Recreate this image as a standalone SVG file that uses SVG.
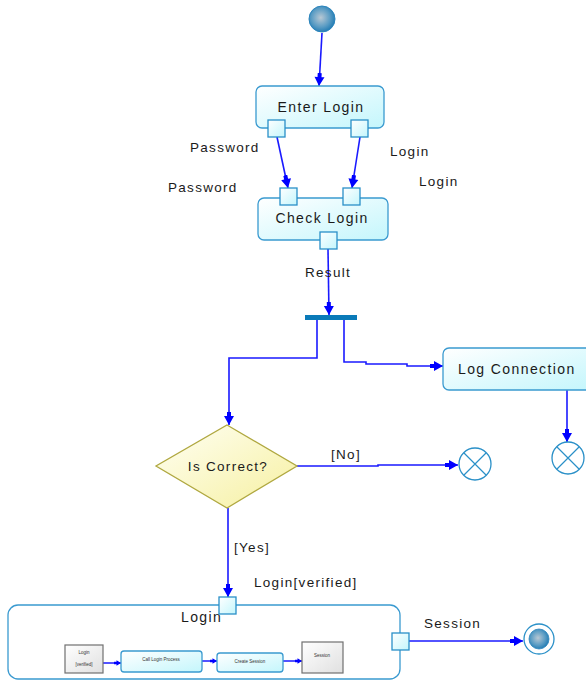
<svg xmlns="http://www.w3.org/2000/svg" width="586" height="681" viewBox="0 0 586 681">
<defs>
<linearGradient id="gNode" x1="0" y1="0" x2="1" y2="1">
<stop offset="0" stop-color="#ffffff"/>
<stop offset="1" stop-color="#c4f6fc"/>
</linearGradient>
<linearGradient id="gDia" x1="0" y1="0" x2="1" y2="1">
<stop offset="0" stop-color="#fffff4"/>
<stop offset="1" stop-color="#f6f0a0"/>
</linearGradient>
<linearGradient id="gObj" x1="0" y1="0" x2="1" y2="1">
<stop offset="0" stop-color="#ffffff"/>
<stop offset="1" stop-color="#e0e0e0"/>
</linearGradient>
<radialGradient id="gStart" cx="0.45" cy="0.45" r="0.6">
<stop offset="0" stop-color="#b8c8d4"/>
<stop offset="0.6" stop-color="#5a9cc4"/>
<stop offset="1" stop-color="#1a76b0"/>
</radialGradient>
<marker id="arr" markerUnits="userSpaceOnUse" markerWidth="14" markerHeight="11" refX="13" refY="5.5" orient="auto">
<path d="M0,3.5 L4,3.5 L4,0.5 L13,5.5 L4,10.5 L4,7.5 L0,7.5 z" fill="#0000ff"/>
</marker>
<marker id="arrS" markerUnits="userSpaceOnUse" markerWidth="8" markerHeight="6" refX="7" refY="3" orient="auto">
<path d="M0,1.8 L2.5,1.8 L2.5,0.3 L7,3 L2.5,5.7 L2.5,4.2 L0,4.2 z" fill="#0000ff"/>
</marker>
</defs>
<style>
.node{fill:url(#gNode);stroke:#3a9ad0;stroke-width:1.3}
.port{fill:url(#gNode);stroke:#2a90c8;stroke-width:1.3}
.obj{fill:url(#gObj);stroke:#707070;stroke-width:1.2}
.c{fill:none;stroke:#1a1aff;stroke-width:1.6;marker-end:url(#arr)}
.cs{fill:none;stroke:#1a1aff;stroke-width:1.5;marker-end:url(#arrS)}
.t{font-family:"Liberation Sans",Arial,sans-serif;font-size:14px;letter-spacing:1.4px;fill:#1a1a1a}
.l{font-family:"Liberation Sans",Arial,sans-serif;font-size:13.5px;letter-spacing:1.3px;fill:#1a1a1a}
.tiny{font-family:"Liberation Sans",Arial,sans-serif;font-size:4.5px;fill:#333}
.ff{fill:#ffffff;stroke:#2a90c8;stroke-width:1.3}
</style>

<g id="loginActivity">
<rect x="8" y="605" width="392" height="74" rx="10" fill="#ffffff" stroke="#3a9ad0" stroke-width="1.3"/>
<text class="t" x="181" y="622">Login</text>
</g>

<g id="connectors">
<polyline class="c" points="322,33 319,86"/>
<polyline class="c" points="277,137 288,188"/>
<polyline class="c" points="360,137 352,188"/>
<polyline class="c" points="328,249 329,315"/>
<polyline class="c" points="317,319 317,358 229,358 229,425"/>
<polyline class="c" points="344,319 344,362 366,362 366,364 407,364 407,366 443,366"/>
<polyline class="c" points="567,390 567,442"/>
<polyline class="c" points="297,466 378,466 378,465 458,465"/>
<polyline class="c" points="228,508 228,597"/>
<polyline class="c" points="409,641 523,641"/>
<polyline class="cs" points="103,663 121,663"/>
<polyline class="cs" points="202,661 217,661"/>
<polyline class="cs" points="283,661 302,661"/>
</g>

<g id="start">
<circle cx="322" cy="19" r="13" fill="url(#gStart)" stroke="#2a84bc" stroke-width="1"/>
</g>

<g id="enterLogin">
<rect class="node" x="256" y="86" width="128" height="42" rx="6"/>
<text class="t" x="321" y="112" text-anchor="middle">Enter Login</text>
<rect class="port" x="268" y="120" width="17" height="17"/>
<rect class="port" x="351" y="120" width="17" height="17"/>
</g>

<g id="checkLogin">
<rect class="node" x="258" y="198" width="130" height="42" rx="6"/>
<text class="t" x="322" y="223" text-anchor="middle">Check Login</text>
<rect class="port" x="280" y="188" width="17" height="17"/>
<rect class="port" x="343" y="188" width="17" height="17"/>
<rect class="port" x="320" y="232" width="17" height="17"/>
</g>

<g id="labels">
<text class="l" x="190" y="152">Password</text>
<text class="l" x="390" y="156">Login</text>
<text class="l" x="168" y="192">Password</text>
<text class="l" x="419" y="186">Login</text>
<text class="l" x="305" y="277">Result</text>
<text class="l" x="331" y="459">[No]</text>
<text class="l" x="234" y="552">[Yes]</text>
<text class="l" x="254" y="587">Login[verified]</text>
<text class="l" x="424" y="628">Session</text>
</g>

<g id="fork">
<rect x="305" y="315" width="52" height="5" fill="#0a7ab8"/>
</g>

<g id="logConnection">
<rect class="node" x="443" y="348" width="150" height="42" rx="6"/>
<text class="t" x="458" y="374">Log Connection</text>
</g>

<g id="isCorrect">
<polygon points="227,425 297,466 227,508 156,466" fill="url(#gDia)" stroke="#b0a840" stroke-width="1.3"/>
<text class="l" x="228" y="471" text-anchor="middle">Is Correct?</text>
</g>

<g id="flowFinal1">
<circle class="ff" cx="475" cy="464" r="16"/>
<path d="M464,453 L486,475 M486,453 L464,475" stroke="#2a90c8" stroke-width="1.2"/>
</g>

<g id="flowFinal2">
<circle class="ff" cx="568" cy="458" r="16"/>
<path d="M557,447 L579,469 M579,447 L557,469" stroke="#2a90c8" stroke-width="1.2"/>
</g>

<g id="loginPorts">
<rect class="port" x="219" y="597" width="17" height="17"/>
<rect class="port" x="392" y="633" width="17" height="17"/>
</g>

<g id="subLoginVerified">
<rect class="obj" x="65" y="645" width="38" height="28"/>
<text class="tiny" x="84" y="654" text-anchor="middle">Login</text>
<text class="tiny" x="84" y="666" text-anchor="middle">[verified]</text>
</g>
<g id="subCallLogin">
<rect class="node" x="121" y="651" width="81" height="21" rx="3"/>
<text class="tiny" x="161" y="661" text-anchor="middle">Call Login Process</text>
</g>
<g id="subCreateSession">
<rect class="node" x="217" y="653" width="66" height="19" rx="3"/>
<text class="tiny" x="250" y="663" text-anchor="middle">Create Session</text>
</g>
<g id="subSession">
<rect class="obj" x="302" y="642" width="41" height="31"/>
<text class="tiny" x="322" y="657" text-anchor="middle">Session</text>
</g>

<g id="end">
<circle cx="539" cy="639" r="15" fill="#ffffff" stroke="#2a90c8" stroke-width="1.3"/>
<circle cx="539" cy="639" r="10" fill="url(#gStart)" stroke="#2a84bc" stroke-width="0.8"/>
</g>
</svg>
